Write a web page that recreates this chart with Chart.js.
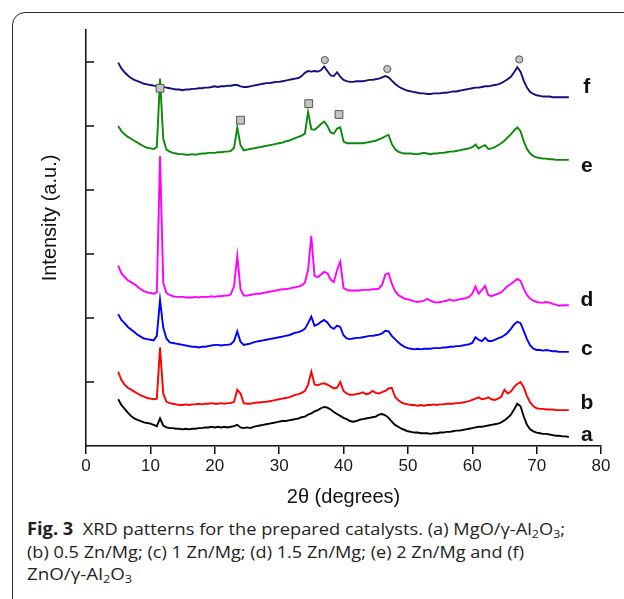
<!DOCTYPE html>
<html>
<head>
<meta charset="utf-8">
<script src="https://cdn.jsdelivr.net/npm/chart.js@4.4.1/dist/chart.umd.min.js"></script>
<style>
  html, body { margin: 0; padding: 0; background: #fff; width: 624px; height: 599px; overflow: hidden; }
  #frame { position: absolute; left: 12px; top: 12px; width: 700px; height: 700px; border: 1.5px solid #2a2a2a; border-radius: 13px; }
  #wrap { position: absolute; left: 0; top: 0; width: 624px; height: 512px; }
  #cap { position: absolute; left: 27px; top: 518px; font-family: "Open Sans", "Noto Sans", sans-serif; font-size: 17px; line-height: 22.7px; color: #231f20; white-space: nowrap; }
  #cap .ln { display: block; height: 22.7px; }
  #cap .t { display: inline-block; transform-origin: 0 0; }
  #cap b { font-weight: 700; }
  #cap sub { font-size: 11.5px; vertical-align: -3px; line-height: 0; }
</style>
</head>
<body>
<div id="frame"></div>
<div id="wrap"><canvas id="c" width="624" height="512"></canvas></div>
<div id="cap">
  <span class="ln"><span class="t" data-w="538"><b>Fig. 3</b>&nbsp; XRD patterns for the prepared catalysts. (a) MgO/γ-Al<sub>2</sub>O<sub>3</sub>;</span></span>
  <span class="ln"><span class="t" data-w="497">(b) 0.5 Zn/Mg; (c) 1 Zn/Mg; (d) 1.5 Zn/Mg; (e) 2 Zn/Mg and (f)</span></span>
  <span class="ln"><span class="t" data-w="105">ZnO/γ-Al<sub>2</sub>O<sub>3</sub></span></span>
</div>
<script>
// ---- data ----
const twoTheta = [
  5.0,5.5,6.0,6.5,7.0,7.5,8.0,8.5,9.0,9.5,
  10.0,10.5,11.0,11.5,12.0,12.5,13.0,13.5,14.0,14.5,
  15.0,15.5,16.0,16.5,17.0,17.5,18.0,18.5,19.0,19.5,
  20.0,20.5,21.0,21.5,22.0,22.5,23.0,23.5,24.0,24.5,
  25.0,25.5,26.0,26.5,27.0,27.5,28.0,28.5,29.0,29.5,
  30.0,30.5,31.0,31.5,32.0,32.5,33.0,33.5,34.0,34.5,
  35.0,35.5,36.0,36.5,37.0,37.5,38.0,38.5,39.0,39.5,
  40.0,40.5,41.0,41.5,42.0,42.5,43.0,43.5,44.0,44.5,
  45.0,45.5,46.0,46.5,47.0,47.5,48.0,48.5,49.0,49.5,
  50.0,50.5,51.0,51.5,52.0,52.5,53.0,53.5,54.0,54.5,
  55.0,55.5,56.0,56.5,57.0,57.5,58.0,58.5,59.0,59.5,
  60.0,60.5,61.0,61.5,62.0,62.5,63.0,63.5,64.0,64.5,
  65.0,65.5,66.0,66.5,67.0,67.5,68.0,68.5,69.0,69.5,
  70.0,70.5,71.0,71.5,72.0,72.5,73.0,73.5,74.0,74.5,
  75.0
];

const seriesA = [
  0.73,0.64,0.58,0.52,0.47,0.43,0.41,0.39,0.37,0.36,
  0.35,0.33,0.31,0.43,0.32,0.29,0.28,0.28,0.27,0.27,
  0.26,0.27,0.26,0.27,0.27,0.28,0.28,0.29,0.29,0.30,
  0.29,0.30,0.29,0.30,0.29,0.30,0.31,0.33,0.29,0.28,
  0.29,0.28,0.30,0.31,0.32,0.33,0.34,0.35,0.36,0.37,
  0.38,0.39,0.39,0.40,0.41,0.42,0.43,0.45,0.46,0.49,
  0.51,0.54,0.56,0.59,0.61,0.60,0.57,0.53,0.50,0.47,
  0.44,0.42,0.39,0.38,0.39,0.41,0.42,0.43,0.44,0.45,
  0.46,0.49,0.50,0.48,0.44,0.38,0.33,0.30,0.27,0.25,
  0.23,0.22,0.21,0.21,0.20,0.20,0.20,0.19,0.20,0.20,
  0.21,0.21,0.22,0.22,0.23,0.24,0.24,0.25,0.26,0.27,
  0.28,0.29,0.30,0.30,0.31,0.32,0.33,0.34,0.35,0.37,
  0.40,0.44,0.49,0.57,0.66,0.62,0.46,0.33,0.26,0.23,
  0.21,0.20,0.19,0.19,0.18,0.17,0.16,0.16,0.15,0.15,
  0.14
];

const seriesB = [
  1.16,1.03,0.96,0.91,0.88,0.85,0.82,0.79,0.77,0.75,
  0.74,0.73,0.74,1.54,0.82,0.69,0.67,0.66,0.65,0.64,
  0.64,0.65,0.64,0.65,0.65,0.66,0.65,0.66,0.66,0.67,
  0.66,0.66,0.67,0.66,0.67,0.67,0.69,0.88,0.82,0.67,
  0.66,0.66,0.67,0.68,0.68,0.69,0.69,0.70,0.71,0.72,
  0.73,0.74,0.75,0.76,0.78,0.80,0.81,0.83,0.86,0.96,
  1.16,0.96,0.95,0.97,0.98,0.96,0.93,0.90,0.91,1.00,
  0.86,0.82,0.80,0.80,0.81,0.82,0.84,0.81,0.82,0.86,
  0.83,0.82,0.84,0.86,0.90,0.91,0.77,0.72,0.68,0.66,
  0.65,0.64,0.64,0.63,0.64,0.63,0.64,0.64,0.65,0.64,
  0.65,0.65,0.66,0.66,0.66,0.67,0.67,0.68,0.69,0.70,
  0.72,0.74,0.76,0.73,0.74,0.76,0.73,0.72,0.74,0.77,
  0.88,0.82,0.85,0.92,0.97,1.00,0.92,0.78,0.68,0.62,
  0.59,0.58,0.58,0.57,0.57,0.57,0.56,0.56,0.56,0.56,
  0.56
];

const seriesC = [
  2.06,1.97,1.92,1.86,1.82,1.78,1.74,1.71,1.68,1.67,
  1.66,1.65,1.72,2.28,1.85,1.68,1.62,1.61,1.60,1.59,
  1.58,1.57,1.56,1.55,1.55,1.54,1.55,1.55,1.56,1.57,
  1.58,1.58,1.57,1.58,1.58,1.59,1.64,1.79,1.63,1.58,
  1.59,1.60,1.62,1.63,1.64,1.65,1.66,1.67,1.68,1.69,
  1.70,1.71,1.72,1.73,1.75,1.77,1.78,1.80,1.83,1.92,
  2.02,1.88,1.90,1.94,1.97,1.93,1.86,1.83,1.88,1.86,
  1.73,1.68,1.67,1.68,1.69,1.69,1.70,1.71,1.72,1.72,
  1.73,1.74,1.76,1.80,1.79,1.72,1.67,1.62,1.58,1.55,
  1.53,1.52,1.51,1.52,1.51,1.52,1.52,1.52,1.53,1.53,
  1.53,1.54,1.54,1.55,1.55,1.56,1.56,1.57,1.58,1.59,
  1.61,1.70,1.66,1.64,1.69,1.64,1.64,1.66,1.68,1.70,
  1.73,1.77,1.83,1.90,1.94,1.92,1.80,1.67,1.57,1.52,
  1.50,1.50,1.49,1.50,1.49,1.48,1.48,1.47,1.47,1.47,
  1.47
];

const seriesD = [
  2.82,2.70,2.64,2.59,2.56,2.53,2.49,2.45,2.42,2.40,
  2.39,2.38,2.40,4.53,2.55,2.39,2.36,2.34,2.33,2.33,
  2.33,2.32,2.32,2.32,2.33,2.32,2.33,2.33,2.33,2.34,
  2.33,2.34,2.34,2.35,2.35,2.37,2.50,2.97,2.45,2.35,
  2.35,2.36,2.37,2.38,2.38,2.39,2.40,2.41,2.42,2.43,
  2.44,2.45,2.45,2.46,2.47,2.48,2.49,2.51,2.55,2.75,
  3.28,2.66,2.64,2.68,2.72,2.70,2.60,2.56,2.75,2.88,
  2.47,2.44,2.43,2.43,2.43,2.43,2.44,2.44,2.44,2.45,
  2.45,2.46,2.52,2.68,2.70,2.54,2.42,2.36,2.33,2.30,
  2.29,2.28,2.26,2.25,2.26,2.27,2.30,2.27,2.25,2.24,
  2.25,2.26,2.27,2.29,2.27,2.28,2.29,2.30,2.31,2.33,
  2.38,2.49,2.38,2.44,2.50,2.36,2.34,2.36,2.38,2.40,
  2.45,2.50,2.53,2.57,2.61,2.58,2.46,2.36,2.30,2.27,
  2.25,2.24,2.24,2.25,2.24,2.22,2.21,2.19,2.20,2.20,
  2.20
];

const seriesE = [
  5.00,4.92,4.87,4.83,4.80,4.77,4.74,4.71,4.68,4.66,
  4.65,4.64,4.67,5.74,4.80,4.63,4.60,4.58,4.57,4.56,
  4.56,4.55,4.55,4.56,4.55,4.56,4.57,4.57,4.58,4.58,
  4.58,4.59,4.59,4.60,4.60,4.61,4.66,4.98,4.70,4.62,
  4.63,4.64,4.65,4.66,4.67,4.68,4.69,4.70,4.71,4.72,
  4.73,4.74,4.76,4.77,4.79,4.81,4.83,4.85,4.88,5.22,
  4.95,4.94,4.98,5.03,5.07,5.00,4.90,4.88,4.96,4.98,
  4.76,4.73,4.73,4.73,4.73,4.73,4.73,4.74,4.75,4.76,
  4.77,4.79,4.81,4.84,4.86,4.72,4.64,4.60,4.58,4.57,
  4.57,4.57,4.56,4.56,4.57,4.58,4.57,4.56,4.57,4.57,
  4.58,4.58,4.59,4.60,4.60,4.61,4.62,4.63,4.64,4.65,
  4.67,4.71,4.65,4.68,4.70,4.64,4.65,4.67,4.70,4.73,
  4.77,4.82,4.87,4.93,4.98,4.92,4.76,4.64,4.57,4.53,
  4.51,4.50,4.49,4.49,4.48,4.48,4.47,4.47,4.47,4.47,
  4.47
];

const seriesF = [
  5.99,5.90,5.84,5.79,5.75,5.72,5.70,5.68,5.66,5.65,
  5.64,5.63,5.62,5.63,5.61,5.60,5.59,5.58,5.57,5.57,
  5.56,5.57,5.57,5.58,5.58,5.59,5.59,5.60,5.60,5.61,
  5.62,5.61,5.62,5.62,5.63,5.63,5.64,5.64,5.62,5.61,
  5.61,5.62,5.63,5.64,5.65,5.66,5.67,5.67,5.68,5.69,
  5.69,5.70,5.71,5.72,5.73,5.74,5.75,5.78,5.83,5.86,
  5.85,5.86,5.85,5.87,5.93,5.86,5.79,5.78,5.84,5.77,
  5.72,5.70,5.69,5.69,5.70,5.70,5.70,5.71,5.72,5.72,
  5.73,5.74,5.76,5.78,5.76,5.71,5.66,5.62,5.59,5.57,
  5.55,5.54,5.53,5.52,5.51,5.51,5.50,5.50,5.51,5.51,
  5.51,5.52,5.52,5.53,5.54,5.54,5.55,5.56,5.57,5.58,
  5.59,5.60,5.60,5.61,5.62,5.62,5.63,5.64,5.65,5.67,
  5.70,5.73,5.77,5.84,5.92,5.85,5.71,5.60,5.53,5.50,
  5.48,5.47,5.46,5.46,5.46,5.45,5.45,5.45,5.45,5.45,
  5.45
];

// phase markers (square: on pattern e, circle: on pattern f)
const squareX = [11.5, 24.0, 34.6, 39.3];
const squareY = [5.59, 5.09, 5.35, 5.18];
const circleX = [37.1, 46.8, 67.3];
const circleY = [6.03, 5.89, 6.04];

// curve labels
const seriesNames = ['a', 'b', 'c', 'd', 'e', 'f'];
const labelX = 77.8;
const labelY = [0.17, 0.67, 1.52, 2.28, 4.375, 5.61];

// axes
const xTicks = [0, 10, 20, 30, 40, 50, 60, 70, 80];
const yTickValues = [1, 2, 3, 4, 5, 6];

const seriesList = [seriesA, seriesB, seriesC, seriesD, seriesE, seriesF];
const seriesColors = ['#000000', '#ff0000', '#0000ff', '#ff00ff', '#0a8a0a', '#10107f'];

const FONT = '"Liberation Sans", Arial, Helvetica, sans-serif';

const overlay = {
  id: 'overlay',
  afterDatasetsDraw(chart) {
    const { ctx, scales: { x, y } } = chart;
    ctx.save();
    // inward y ticks
    ctx.strokeStyle = '#111';
    ctx.lineWidth = 1.5;
    yTickValues.forEach(v => {
      const py = y.getPixelForValue(v);
      ctx.beginPath();
      ctx.moveTo(x.left, py);
      ctx.lineTo(x.left + 8, py);
      ctx.stroke();
    });
    // series letters
    ctx.fillStyle = '#111';
    ctx.font = 'bold 21px ' + FONT;
    ctx.textAlign = 'center';
    ctx.textBaseline = 'middle';
    seriesNames.forEach((n, i) => {
      ctx.fillText(n, x.getPixelForValue(labelX), y.getPixelForValue(labelY[i]));
    });
    // y-axis title
    ctx.font = '20px ' + FONT;
    ctx.translate(50, 218);
    ctx.rotate(-Math.PI / 2);
    ctx.fillText('Intensity (a.u.)', 0, 0);
    ctx.restore();
  }
};

const datasets = [
  {
    label: 'square',
    data: squareX.map((v, i) => ({ x: v, y: squareY[i] })),
    showLine: false,
    pointStyle: 'rect',
    pointRadius: 5.5,
    pointBackgroundColor: '#c4c4c4',
    pointBorderColor: '#555',
    pointBorderWidth: 1
  },
  {
    label: 'circle',
    data: circleX.map((v, i) => ({ x: v, y: circleY[i] })),
    showLine: false,
    pointStyle: 'circle',
    pointRadius: 3.6,
    pointBackgroundColor: '#c4c4c4',
    pointBorderColor: '#555',
    pointBorderWidth: 1
  }
];
seriesList.forEach((s, k) => {
  datasets.push({
    label: seriesNames[k],
    data: twoTheta.map((t, i) => ({ x: t, y: s[i] })),
    borderColor: seriesColors[k],
    borderWidth: 1.9,
    pointRadius: 0,
    tension: 0,
    fill: false
  });
});

new Chart(document.getElementById('c'), {
  type: 'line',
  data: { datasets },
  options: {
    responsive: false,
    animation: false,
    events: [],
    layout: { padding: { top: 30, right: 23, left: 0, bottom: 0 } },
    plugins: { legend: { display: false }, tooltip: { enabled: false } },
    scales: {
      x: {
        type: 'linear',
        min: 0, max: 80,
        afterBuildTicks: s => { s.ticks = xTicks.map(v => ({ value: v })); },
        afterFit: s => { s.height = 66; },
        ticks: { color: '#1a1a1a', font: { family: FONT, size: 17 }, padding: 2, maxRotation: 0 },
        grid: { drawOnChartArea: false, drawTicks: true, tickLength: 8, color: '#111', lineWidth: 1.5 },
        border: { display: true, color: '#111', width: 1.5 },
        title: { display: true, text: '2θ (degrees)', color: '#111', font: { family: FONT, size: 20 }, padding: { top: 0, bottom: 3 } }
      },
      y: {
        type: 'linear',
        min: 0, max: 6.5,
        afterFit: s => { s.width = 86; },
        ticks: { display: false },
        grid: { drawOnChartArea: false, drawTicks: false },
        border: { display: true, color: '#111', width: 1.5 }
      }
    }
  },
  plugins: [overlay]
});

// fit each caption line to the width it has in the figure (condensed typeface look)
document.querySelectorAll('#cap .t').forEach(el => {
  const w = el.getBoundingClientRect().width;
  const target = parseFloat(el.dataset.w);
  el.style.transform = 'scaleX(' + (target / w).toFixed(4) + ')';
});
</script>
</body>
</html>
